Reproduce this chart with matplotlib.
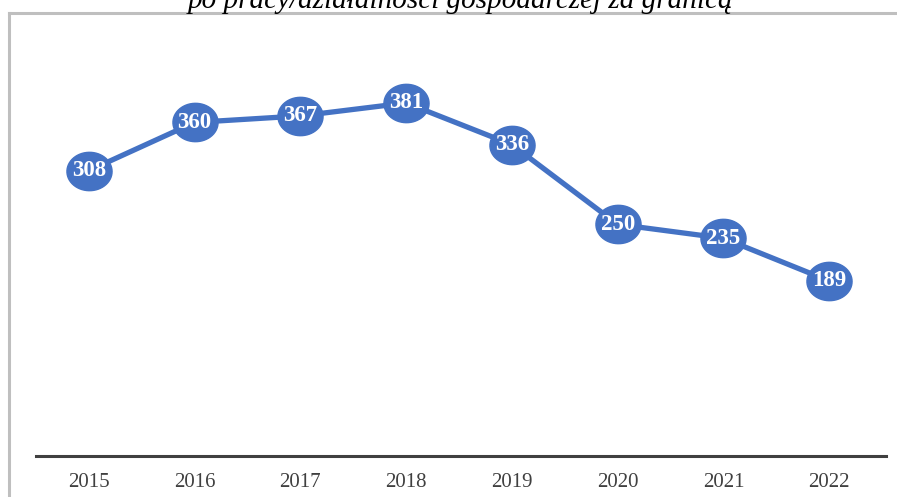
import numpy as np
import matplotlib
matplotlib.use('Agg')
import matplotlib.pyplot as plt
from matplotlib.path import Path
from matplotlib.lines import Line2D

# Data
years = ['2015', '2016', '2017', '2018', '2019', '2020', '2021', '2022']
values = [308, 360, 367, 381, 336, 250, 235, 189]
title = 'po pracy/działalności gospodarczej za granicą'

blue = '#4472C4'
serif = ['Liberation Serif', 'DejaVu Serif']

# Ellipse marker (wider than tall)
t = np.linspace(0, 2 * np.pi, 60)
ellipse = Path(np.column_stack([np.cos(t), 0.85 * np.sin(t)]), closed=True)

fig = plt.figure(figsize=(8.97, 4.97), dpi=100)
ax = fig.add_axes([36 / 897, 41 / 497, 846 / 897, 417 / 497])

x = np.arange(len(years))
ax.plot(x, values, color=blue, linewidth=3.8, marker=ellipse, markersize=32.5,
        markerfacecolor=blue, markeredgecolor=blue, solid_capstyle='round', zorder=2)
for xi, v in zip(x, values):
    ax.text(xi, v, str(v), ha='center', va='center', color='white',
            fontsize=16.5, fontweight='bold', family=serif, zorder=3)

ax.set_xlim(-0.5, len(years) - 0.5)
ax.set_ylim(0, 450)
ax.set_xticks(x)
ax.set_xticklabels(years, family=serif, fontsize=15, color='#404040')
ax.tick_params(axis='x', length=0, pad=12)
ax.set_yticks([])
for side in ['top', 'right', 'left']:
    ax.spines[side].set_visible(False)
ax.spines['bottom'].set_color('#404040')
ax.spines['bottom'].set_linewidth(2.2)
ax.spines['bottom'].set_bounds(-0.5, 7.535)

# Page frame lines
fig.add_artist(Line2D([9 / 897, 1], [1 - 13 / 497, 1 - 13 / 497], color='#BFBFBF', linewidth=2.2))
fig.add_artist(Line2D([9 / 897, 9 / 897], [0, 1 - 13 / 497], color='#BFBFBF', linewidth=2.2))

# Title, clipped at the top edge
fig.text(460 / 897, 1 - 8 / 497, title, ha='center', va='baseline', fontsize=21,
         style='italic', family=serif, color='black')

plt.savefig('out.png', dpi=100)
